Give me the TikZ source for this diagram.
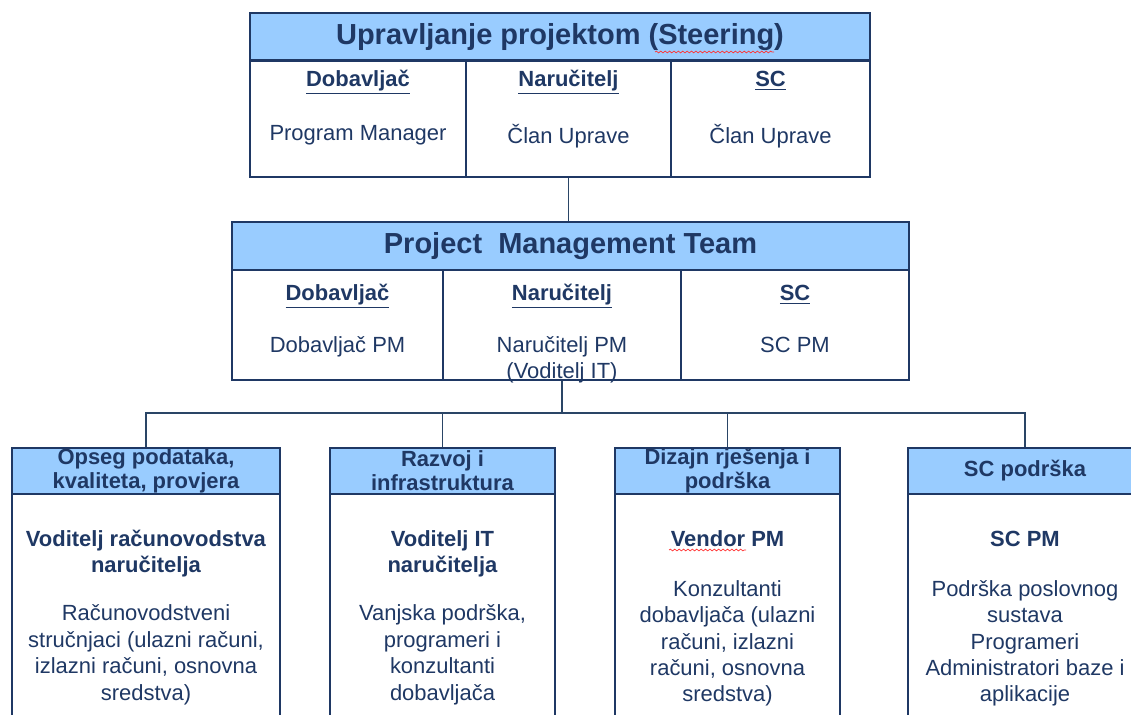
\documentclass[tikz,border=0pt]{standalone}
\usepackage{fontspec}
\setmainfont{Liberation Sans}
\usetikzlibrary{decorations.pathmorphing}
\definecolor{navy}{HTML}{1F3864}
\definecolor{hdrblue}{HTML}{99CCFF}
\definecolor{linkgrey}{HTML}{2A4566}
\newcommand\titlefont{\fontsize{16.5}{20}\selectfont\bfseries}
\newcommand\bodyfont{\fontsize{12.5}{15}\selectfont}
\newcommand\headfont{\fontsize{12.5}{13.6}\selectfont\bfseries}
\tikzset{
  hdr/.style={draw=navy, fill=hdrblue, line width=1pt, text=navy, inner sep=0pt, align=center},
  cell/.style={draw=navy, line width=1pt, inner sep=0pt},
  txt/.style={text=navy, font=\bodyfont, align=center, inner sep=0pt, anchor=north},
  link/.style={draw=linkgrey, line width=1.1pt},
  spell/.style={draw=red!80, line width=0.4pt, decorate, decoration={snake, amplitude=0.5pt, segment length=2.5pt}}
}
\begin{document}
\begin{tikzpicture}[x=0.02cm, y=-0.02cm]
        \useasboundingbox (0,0) rectangle (1131,715);
        \clip (0,0) rectangle (1131,715);
        % steering board
        \node[hdr, font=\titlefont, minimum width=12.4cm, minimum height=0.96cm] (steer) at (560,37) {Upravljanje projektom (Steering)};
        \node[cell, minimum width=4.32cm, minimum height=2.34cm] (steerDob) at (358,118.5) {};
        \node[cell, minimum width=4.1cm, minimum height=2.34cm] (steerNar) at (568.5,118.5) {};
        \node[cell, minimum width=3.98cm, minimum height=2.34cm] (steerSC) at (770.5,118.5) {};
        \node[txt] (steerDobT) at (358,68) {\strut\underline{\textbf{Dobavljač}}\\[15.6pt]Program Manager};
        \node[txt] (steerNarT) at (568.5,68) {\strut\underline{\textbf{Naručitelj}}\\[15.6pt]Član Uprave};
        \node[txt] (steerSCT) at (770.5,68) {\strut\underline{\textbf{SC}}\\[15.6pt]Član Uprave};
        \draw[spell] (655,52) -- (774,52);
        % project management team
        \node[hdr, font=\titlefont, minimum width=13.54cm, minimum height=0.96cm] (pmt) at (570.5,246) {Project\ \ Management Team};
        \node[cell, minimum width=4.22cm, minimum height=2.2cm] (pmtDob) at (337.5,325) {};
        \node[cell, minimum width=4.76cm, minimum height=2.2cm] (pmtNar) at (562,325) {};
        \node[cell, minimum width=4.56cm, minimum height=2.2cm] (pmtSC) at (795,325) {};
        \node[txt] (pmtDobT) at (337.5,281.5) {\strut\underline{\textbf{Dobavljač}}\\[14.5pt]Dobavljač PM};
        \node[txt] (pmtNarT) at (562,281.5) {\strut\underline{\textbf{Naručitelj}}\\[14.5pt]Naručitelj PM\\(Voditelj IT)};
        \node[txt] (pmtSCT) at (795,281.5) {\strut\underline{\textbf{SC}}\\[14.5pt]SC PM};
        % working groups
        \node[hdr, font=\headfont, minimum width=5.36cm, minimum height=0.92cm] (grp1) at (146,471) {Opseg podataka,\\kvaliteta, provjera};
        \node[hdr, font=\headfont, minimum width=4.5cm, minimum height=0.92cm] (grp2) at (442.5,471) {Razvoj i\\infrastruktura};
        \node[hdr, font=\headfont, minimum width=4.5cm, minimum height=0.92cm] (grp3) at (727.5,471) {Dizajn rješenja i\\podrška};
        \node[hdr, font=\headfont, minimum width=4.68cm, minimum height=0.92cm] (grp4) at (1025,471) {SC podrška};
        \node[cell, minimum width=5.36cm, minimum height=5.04cm] (grp1body) at (146,620) {};
        \node[cell, minimum width=4.5cm, minimum height=5.04cm] (grp2body) at (442.5,620) {};
        \node[cell, minimum width=4.5cm, minimum height=5.04cm] (grp3body) at (727.5,620) {};
        \node[cell, minimum width=4.68cm, minimum height=5.04cm] (grp4body) at (1025,620) {};
        \node[txt] (grp1T) at (146,527.5) {\strut\textbf{Voditelj računovodstva}\\\textbf{naručitelja}\\[12.5pt]Računovodstveni\\stručnjaci (ulazni računi,\\izlazni računi, osnovna\\sredstva)};
        \node[txt] (grp2T) at (442.5,527.5) {\strut\textbf{Voditelj IT}\\\textbf{naručitelja}\\[12.5pt]Vanjska podrška,\\programeri i\\konzultanti\\dobavljača};
        \node[txt] (grp3T) at (727.5,527.5) {\strut\textbf{Vendor PM}\\[13.5pt]Konzultanti\\dobavljača (ulazni\\računi, izlazni\\računi, osnovna\\sredstva)};
        \node[txt] (grp4T) at (1025,527.5) {\strut\textbf{SC PM}\\[13.5pt]Podrška poslovnog\\sustava\\Programeri\\Administratori baze i\\aplikacije};
        \draw[spell] (669,550) -- (746,550);
        % connectors
        \draw[link] (steerNar.south) -- (steerNar.south |- pmt.north);
        \draw[link] (pmtNar.south) -- ++(0,32) coordinate (bus);
        \draw[link] (grp1.north) |- (bus) -| (grp4.north);
        \draw[link] (grp2.north) -- (grp2.north |- bus);
        \draw[link] (grp3.north) -- (grp3.north |- bus);
    \end{tikzpicture}
\end{document}
